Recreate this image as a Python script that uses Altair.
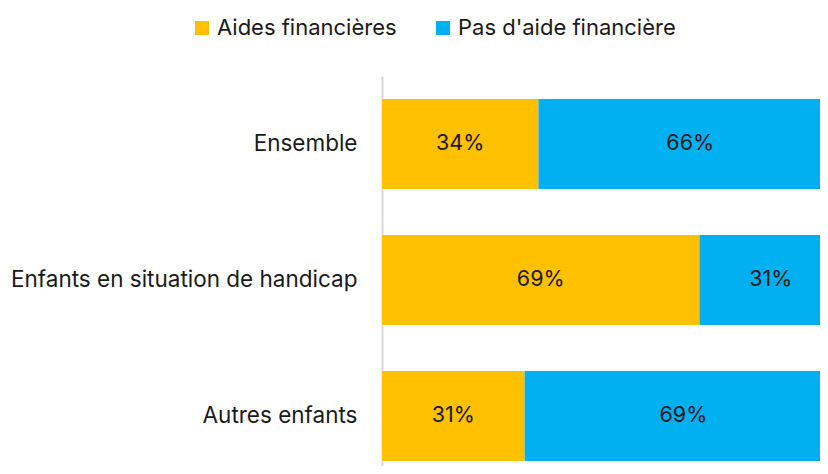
import altair as alt
import pandas as pd

categories = ["Ensemble", "Enfants en situation de handicap", "Autres enfants"]
aides = [34, 69, 31]
pas_aide = [66, 31, 69]
series = ["Aides financières", "Pas d'aide financière"]
colors = ["#FFC000", "#00B0F0"]

rows = []
for c, a, p in zip(categories, aides, pas_aide):
    rows.append({"cat": c, "serie": series[0], "val": a, "ord": 0})
    rows.append({"cat": c, "serie": series[1], "val": p, "ord": 1})
df = pd.DataFrame(rows)

FONT = "Inter"

base = alt.Chart(df).transform_stack(
    stack="val", groupby=["cat"], as_=["x0", "x1"], sort=[alt.SortField("ord")]
).transform_calculate(
    mid="(datum.x0 + datum.x1) / 2", label="datum.val + '%'"
)

xs = alt.Scale(domain=[0, 95.2])
y = alt.Y(
    "cat:N",
    sort=categories,
    scale=alt.Scale(paddingInner=0.338, paddingOuter=0.103, align=0.82),
    axis=alt.Axis(
        title=None, ticks=False, domainColor="#d9d9d9", domainWidth=2,
        labelFontSize=22.5, labelPadding=25, labelColor="#1a1a1a", labelFont=FONT,
        labelLimit=400,
    ),
)

bars = base.mark_bar(clip=True).encode(
    x=alt.X("x0:Q", scale=xs, axis=None),
    x2="x1:Q",
    y=y,
    color=alt.Color(
        "serie:N",
        scale=alt.Scale(domain=series, range=colors),
        legend=alt.Legend(
            orient="none", legendX=-191, legendY=-59, direction="horizontal",
            title=None, symbolType="square", symbolSize=196, symbolStrokeWidth=0,
            symbolOpacity=1, labelFontSize=22, labelFont=FONT, labelColor="#1a1a1a",
            columnPadding=35, labelOffset=4, labelLimit=400,
        ),
    ),
    order=alt.Order("ord:Q"),
)

text = base.mark_text(fontSize=21.5, font=FONT, color="#1a1a1a").encode(
    x=alt.X("mid:Q", scale=xs, axis=None),
    y=y,
    text="label:N",
)

chart = alt.layer(bars, text).properties(
    width=438, height=390,
    autosize=alt.AutoSizeParams(type="none"),
    padding={"left": 374, "top": 68, "right": 0, "bottom": 0},
).configure_view(stroke=None)

chart.save("out.html", embed_options={"renderer": "svg", "actions": False})
